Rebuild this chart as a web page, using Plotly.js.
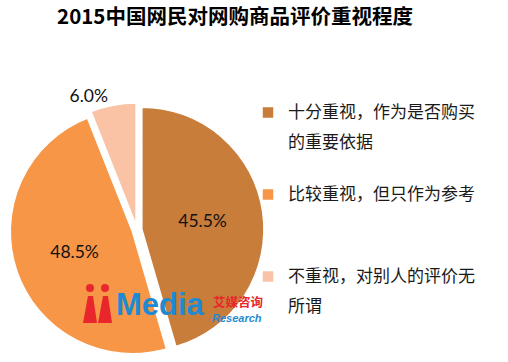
<!DOCTYPE html>
<html>
<head>
<meta charset="utf-8">
<script src="https://cdn.plot.ly/plotly-3.0.1.min.js"></script>
<style>html,body{margin:0;padding:0;background:#fff;}#chart{width:508px;height:362px;}</style>
</head>
<body>
<div id="chart"></div>
<script>
// Data
var categories = [
  "十分重视，作为是否购买",
  "比较重视，但只作为参考",
  "不重视，对别人的评价无"
];
var categoryContinuations = ["的重要依据", "", "所谓"];
var values = [45.5, 48.5, 6.0];
var valueLabels = ["45.5%", "48.5%", "6.0%"];
var sliceColors = ["#C97D3B", "#F79646", "#FAC3A5"];
var titleText = "2015中国网民对网购商品评价重视程度";

var W = 508, H = 362;
function px(x){ return x / W; }
function py(y){ return 1 - y / H; }

// legend entries: visible first line, blank lines to reproduce the wide spacing
var legendLabels = categories.map(function(c, i){
  var s = "<span style='font-size:17px'>" + c + "</span>";
  if (i < categories.length - 1) s += "<br>\u00a0<br>\u00a0<br>\u00a0";
  return s;
});

var trace = {
  type: "pie",
  labels: legendLabels,
  values: values,
  text: valueLabels,
  textinfo: "text",
  textposition: ["inside", "inside", "outside"],
  insidetextorientation: "horizontal",
  sort: false,
  direction: "clockwise",
  rotation: 0,
  pull: [0.04, 0.04, 0.04],
  marker: { colors: sliceColors, line: { color: "#ffffff", width: 1.5 } },
  textfont: { family: "Lato, 'Noto Sans', sans-serif", size: 17.5, color: "#111111" },
  domain: { x: [px(10), px(264)], y: [py(357), py(103)] },
  hoverinfo: "none"
};

var annotations = [
  { text: "<b>Media</b>", xref: "paper", yref: "paper", x: px(114), y: py(324), xanchor: "left", yanchor: "bottom", showarrow: false,
    font: { family: "'Liberation Sans', Arial, sans-serif", size: 31, color: "#1F8AD2" } },
  { text: "<b>艾媒咨询</b>", xref: "paper", yref: "paper", x: px(211), y: py(301), xanchor: "left", yanchor: "middle", showarrow: false,
    font: { family: "'Noto Sans CJK SC', sans-serif", size: 12.5, color: "#E8262B" } },
  { text: "<b><i>Research</i></b>", xref: "paper", yref: "paper", x: px(210), y: py(318), xanchor: "left", yanchor: "middle", showarrow: false,
    font: { family: "'Liberation Sans', Arial, sans-serif", size: 11, color: "#1F8AD2" } }
];
// second lines of the wrapped legend labels
var contY = [140, 0, 304];
categoryContinuations.forEach(function(t, i){
  if (!t) return;
  annotations.push({ text: t, xref: "paper", yref: "paper", x: px(286), y: py(contY[i]), xanchor: "left", yanchor: "middle",
    showarrow: false, font: { family: "'Noto Sans CJK SC', sans-serif", size: 17, color: "#1a1a1a" } });
});

var layout = {
  width: W, height: H,
  margin: { l: 0, r: 0, t: 0, b: 0 },
  paper_bgcolor: "#ffffff",
  title: {
    text: "<b>" + titleText + "</b>",
    font: { family: "'Noto Sans CJK SC', sans-serif", size: 20.5, color: "#000000" },
    x: px(235), xanchor: "center",
    y: py(17), yanchor: "middle", yref: "container"
  },
  showlegend: true,
  legend: {
    x: px(248), xanchor: "left",
    y: py(96), yanchor: "top",
    valign: "top",
    font: { family: "'Noto Sans CJK SC', sans-serif", size: 15.2, color: "#1a1a1a" },
    bgcolor: "rgba(0,0,0,0)"
  },
  shapes: [
    { type: "circle", xref: "paper", yref: "paper", x0: px(86), x1: px(94), y0: py(292), y1: py(284), fillcolor: "#E8262B", line: { width: 0 } },
    { type: "circle", xref: "paper", yref: "paper", x0: px(101), x1: px(109), y0: py(292), y1: py(284), fillcolor: "#E8262B", line: { width: 0 } },
    { type: "path", xref: "paper", yref: "paper", path: "M " + px(88) + "," + py(296) + " L " + px(93) + "," + py(296) + " L " + px(97) + "," + py(323) + " L " + px(83) + "," + py(323) + " Z", fillcolor: "#E8262B", line: { width: 0 } },
    { type: "path", xref: "paper", yref: "paper", path: "M " + px(103) + "," + py(296) + " L " + px(108) + "," + py(296) + " L " + px(112) + "," + py(323) + " L " + px(98) + "," + py(323) + " Z", fillcolor: "#E8262B", line: { width: 0 } }
  ],
  annotations: annotations
};

Plotly.newPlot("chart", [trace], layout, { displayModeBar: false, staticPlot: true });
</script>
</body>
</html>
